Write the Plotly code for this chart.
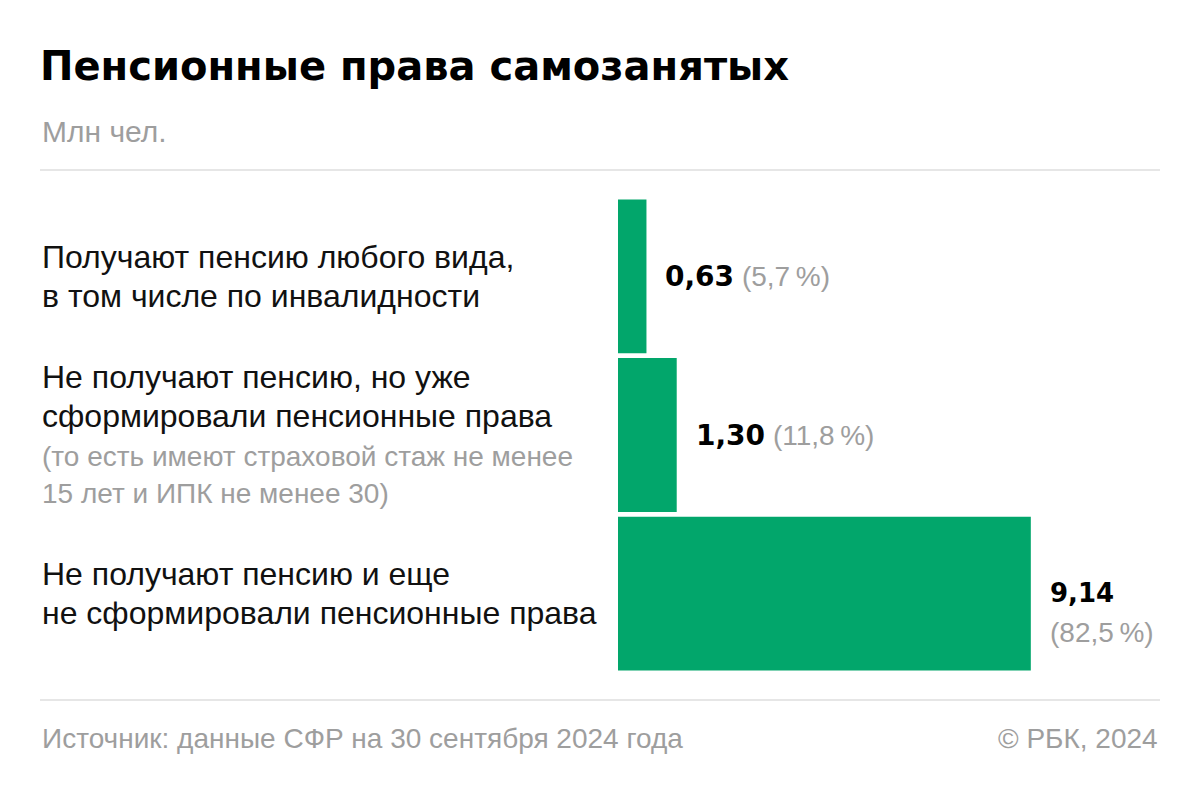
import plotly.graph_objects as go

W, H = 1200, 793
OFF = 8  # page body margin
L, R, T, B = 610, 48, 189, 128

categories = [
    "Получают пенсию любого вида,<br>в том числе по инвалидности",
    "Не получают пенсию, но уже<br>сформировали пенсионные права",
    "Не получают пенсию и еще<br>не сформировали пенсионные права",
]
notes = ["", "(то есть имеют страховой стаж не менее<br>15 лет и ИПК не менее 30)", ""]
values = [0.63, 1.30, 9.14]
value_text = ["0,63", "1,30", "9,14"]
shares = ["(5,7\u2009%)", "(11,8\u2009%)", "(82,5\u2009%)"]

title = "Пенсионные права самозанятых"
subtitle = "Млн чел."
source = "Источник: данные СФР на 30 сентября 2024 года"
credit = "© РБК, 2024"

GREEN = "#02A66B"
GRAY = "#9e9e9e"
BLACK = "#111111"
FONT = "Liberation Sans, Arial, sans-serif"
BOLD = "DejaVu Sans, Verdana, sans-serif"

LABEL_SIZE, NOTE_SIZE = 32, 28
LABEL_STEP, NOTE_GAP, NOTE_STEP = 39, 40, 37

pw = W - L - R
ph = H - T - B


def pxx(x):
    return (x - OFF - L) / pw


def pxy(y):
    return (H - B - (y - OFF)) / ph


idx = list(range(len(values)))

fig = go.Figure(
    go.Bar(
        x=values,
        y=idx,
        orientation="h",
        marker=dict(color=GREEN, line=dict(width=0)),
        hoverinfo="skip",
    )
)

ann = []
# category labels: one annotation per line, block centred on the bar
for i, (c, n) in enumerate(zip(categories, notes)):
    lines = [(t, LABEL_SIZE, BLACK) for t in c.split("<br>")]
    if n:
        lines += [(t, NOTE_SIZE, GRAY) for t in n.split("<br>")]
    offs = [0.0]
    for k in range(1, len(lines)):
        prev_gray = lines[k - 1][2] == GRAY
        cur_gray = lines[k][2] == GRAY
        step = NOTE_STEP if (prev_gray and cur_gray) else (NOTE_GAP if cur_gray else LABEL_STEP)
        offs.append(offs[-1] + step)
    mid = offs[-1] / 2
    for (t, sz, col), o in zip(lines, offs):
        ann.append(dict(
            xref="paper", yref="y", x=pxx(40), y=i, text=t, showarrow=False,
            xanchor="left", yanchor="middle", align="left", yshift=mid - o,
            font=dict(family=FONT, size=sz, color=col),
        ))

# value labels
for i, (v, vt, s) in enumerate(zip(values, value_text, shares)):
    if v > 5:
        ann.append(dict(
            xref="x", yref="y", x=v, y=i, text="<b>%s</b>" % vt, showarrow=False,
            xanchor="left", yanchor="middle", align="left", xshift=17, yshift=1,
            font=dict(family=BOLD, size=26, color="#000000"),
        ))
        ann.append(dict(
            xref="x", yref="y", x=v, y=i, text=s, showarrow=False,
            xanchor="left", yanchor="middle", align="left", xshift=17, yshift=-39,
            font=dict(family=FONT, size=28, color=GRAY),
        ))
    else:
        txt = ("<span style='font-family:DejaVu Sans;font-weight:bold;color:#000'>%s</span>"
               " <span style='color:%s'>%s</span>") % (vt, GRAY, s)
        ann.append(dict(
            xref="x", yref="y", x=v, y=i, text=txt, showarrow=False,
            xanchor="left", yanchor="middle", align="left", xshift=17,
            font=dict(family=FONT, size=28, color=GRAY),
        ))

# title, subtitle, footer
ann.append(dict(xref="paper", yref="paper", x=pxx(38), y=pxy(66), text="<b>%s</b>" % title,
                showarrow=False, xanchor="left", yanchor="middle",
                font=dict(family=BOLD, size=40, color="#000000")))
ann.append(dict(xref="paper", yref="paper", x=pxx(40), y=pxy(131), text=subtitle,
                showarrow=False, xanchor="left", yanchor="middle",
                font=dict(family=FONT, size=30, color=GRAY)))
ann.append(dict(xref="paper", yref="paper", x=pxx(40), y=pxy(738), text=source,
                showarrow=False, xanchor="left", yanchor="middle",
                font=dict(family=FONT, size=28, color=GRAY)))
ann.append(dict(xref="paper", yref="paper", x=pxx(1160), y=pxy(738), text=credit,
                showarrow=False, xanchor="right", yanchor="middle",
                font=dict(family=FONT, size=28, color=GRAY)))

shapes = [
    dict(type="line", xref="paper", yref="paper", x0=pxx(40), x1=pxx(1160),
         y0=pxy(170), y1=pxy(170), line=dict(color="#e6e6e6", width=2)),
    dict(type="line", xref="paper", yref="paper", x0=pxx(40), x1=pxx(1160),
         y0=pxy(700), y1=pxy(700), line=dict(color="#e6e6e6", width=2)),
]

fig.update_layout(
    width=W, height=H,
    margin=dict(l=L, r=R, t=T, b=B, pad=0),
    paper_bgcolor="white", plot_bgcolor="white",
    bargap=0.03,
    showlegend=False,
    xaxis=dict(range=[0, 12], visible=False, fixedrange=True),
    yaxis=dict(range=[2.5, -0.5], visible=False, fixedrange=True),
    annotations=ann,
    shapes=shapes,
)

fig.write_html("out.html", include_plotlyjs=True, config={"displayModeBar": False})
